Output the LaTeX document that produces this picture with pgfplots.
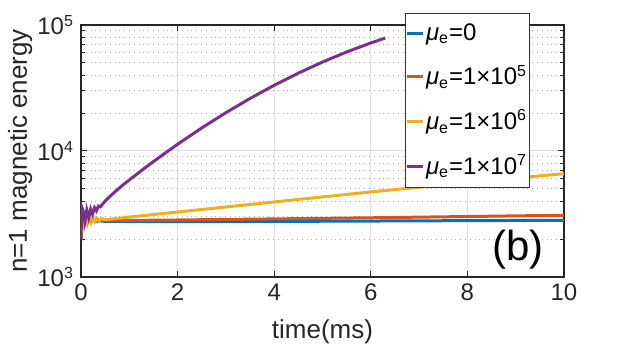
\documentclass[border=0pt]{standalone}
\usepackage{pgfplots}
\pgfplotsset{compat=1.18}
\usepackage{fontspec}
\setmainfont{Liberation Sans}
\definecolor{mblue}{rgb}{0,0.447,0.741}
\definecolor{mred}{rgb}{0.85,0.325,0.098}
\definecolor{myellow}{rgb}{0.929,0.694,0.125}
\definecolor{mpurple}{rgb}{0.494,0.184,0.556}
\begin{document}
\begin{tikzpicture}
\useasboundingbox (-40.5pt,-34.5pt) rectangle (271pt,138.5pt);
\begin{axis}[
    at={(0,0)}, anchor=south west, scale only axis,
    width=241.5pt, height=126pt,
    ymode=log, xmin=0, xmax=10, ymin=1000, ymax=100000,
    xtick={0,2,4,6,8,10}, xticklabels={0,2,4,6,8,10},
    ytick={1000,10000,100000},
    yticklabels={10\textsuperscript{3},10\textsuperscript{4},10\textsuperscript{5}},
    tick align=inside,
    axis line style={draw=black!85, line width=0.6pt},
    tick style={black!85, line width=0.5pt},
    major tick length=3pt, minor tick length=1.8pt,
    xmajorgrids, ymajorgrids, yminorgrids,
    major grid style={black!13, line width=0.5pt},
    minor grid style={black!30, dotted, line width=0.5pt},
    tick label style={font=\fontsize{12}{14}\selectfont, black!85},
    label style={font=\fontsize{13}{15}\selectfont, black!85},
    xlabel={time(ms)},
    ylabel={n=1 magnetic energy},
    xlabel style={at={(axis description cs:0.5,-0.218)}, anchor=center},
    ylabel style={at={(axis description cs:-0.126,0.5)}, anchor=center},
    legend style={at={(0.670,1.048)}, anchor=north west, draw=black!80,
        fill=white, font=\fontsize{12}{14}\selectfont, row sep=7pt,
        inner xsep=0pt, inner ysep=3pt,
        nodes={inner xsep=1pt}},
    legend cell align=left,
    legend image code/.code={\draw[#1] (0pt,0pt) -- (8pt,0pt);},
    every axis plot/.append style={line width=1.5pt},
]
\addplot[mblue] coordinates {
    (0,2000) (0.02,2950) (0.05,2650) (0.09,2900) (0.13,2700) (0.17,2850)
    (0.21,2740) (0.26,2820) (0.32,2750) (0.4,2790) (0.5,2760) (1,2760)
    (2,2750) (4,2760) (6,2780) (8,2800) (10,2818)
};
\addlegendentry{\textit{μ}\textsubscript{e}=0}
\addplot[mred] coordinates {
    (0,2000) (0.02,3000) (0.05,2650) (0.09,2950) (0.13,2700) (0.17,2900)
    (0.21,2750) (0.26,2870) (0.32,2780) (0.4,2830) (0.5,2800) (1,2810)
    (2,2834) (4,2890) (6,2950) (8,3020) (10,3090)
};
\addlegendentry{\textit{μ}\textsubscript{e}=1×10\textsuperscript{5}}
\addplot[myellow] coordinates {
    (0,2000) (0.02,3100) (0.05,2600) (0.09,3050) (0.13,2650) (0.17,3000)
    (0.21,2700) (0.25,2950) (0.29,2750) (0.33,2920) (0.37,2790) (0.42,2900)
    (0.5,2850) (0.63,2885) (1,2990) (2,3280) (4,3940) (6,4730) (8,5620)
    (10,6600)
};
\addlegendentry{\textit{μ}\textsubscript{e}=1×10\textsuperscript{6}}
\addplot[mpurple] coordinates {
    (0,1950) (0.01,3000) (0.02,3550) (0.05,3300) (0.08,2750) (0.12,3400)
    (0.16,2950) (0.2,3450) (0.24,3150) (0.28,3550) (0.32,3350) (0.36,3650)
    (0.4,3600) (0.45,3800) (0.5,4000) (0.6,4365) (0.75,4920) (0.875,5400)
    (1,5888) (1.25,6982) (1.5,8241) (1.75,9676) (2,11312) (2.5,15236)
    (3,20137) (3.5,26117) (4,33227) (4.5,41486) (5,50816) (5.5,61081)
    (6,72044) (6.3,78800)
};
\addlegendentry{\textit{μ}\textsubscript{e}=1×10\textsuperscript{7}}
\node[font=\fontsize{21}{23}\selectfont, black] at (rel axis cs:0.905,0.107) {(b)};
\end{axis}
\end{tikzpicture}
\end{document}
